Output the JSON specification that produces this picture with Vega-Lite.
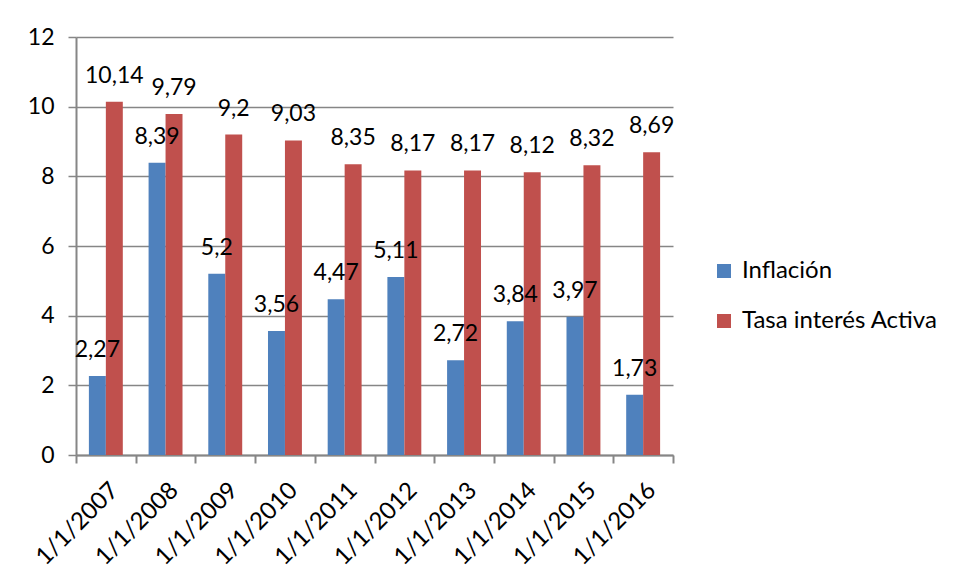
{
  "$schema": "https://vega.github.io/schema/vega-lite/v6.json",
  "width": 597,
  "height": 418,
  "autosize": {"type": "none"},
  "padding": {"left": 76, "top": 37, "right": 284, "bottom": 126},
  "background": "white",
  "config": {
    "font": "Lato",
    "view": {"stroke": null},
    "locale": {"number": {"decimal": ",", "thousands": ".", "grouping": [3], "currency": ["", ""]}}
  },
  "data": {
    "values": [
      {"fecha": "1/1/2007", "serie": "Inflación", "valor": 2.27},
      {"fecha": "1/1/2008", "serie": "Inflación", "valor": 8.39},
      {"fecha": "1/1/2009", "serie": "Inflación", "valor": 5.2},
      {"fecha": "1/1/2010", "serie": "Inflación", "valor": 3.56},
      {"fecha": "1/1/2011", "serie": "Inflación", "valor": 4.47},
      {"fecha": "1/1/2012", "serie": "Inflación", "valor": 5.11},
      {"fecha": "1/1/2013", "serie": "Inflación", "valor": 2.72},
      {"fecha": "1/1/2014", "serie": "Inflación", "valor": 3.84},
      {"fecha": "1/1/2015", "serie": "Inflación", "valor": 3.97},
      {"fecha": "1/1/2016", "serie": "Inflación", "valor": 1.73},
      {"fecha": "1/1/2007", "serie": "Tasa interés Activa", "valor": 10.14},
      {"fecha": "1/1/2008", "serie": "Tasa interés Activa", "valor": 9.79},
      {"fecha": "1/1/2009", "serie": "Tasa interés Activa", "valor": 9.2},
      {"fecha": "1/1/2010", "serie": "Tasa interés Activa", "valor": 9.03},
      {"fecha": "1/1/2011", "serie": "Tasa interés Activa", "valor": 8.35},
      {"fecha": "1/1/2012", "serie": "Tasa interés Activa", "valor": 8.17},
      {"fecha": "1/1/2013", "serie": "Tasa interés Activa", "valor": 8.17},
      {"fecha": "1/1/2014", "serie": "Tasa interés Activa", "valor": 8.12},
      {"fecha": "1/1/2015", "serie": "Tasa interés Activa", "valor": 8.32},
      {"fecha": "1/1/2016", "serie": "Tasa interés Activa", "valor": 8.69}
    ]
  },
  "encoding": {
    "x": {
      "field": "fecha", "type": "nominal", "sort": null,
      "scale": {"paddingInner": 0, "paddingOuter": 0},
      "axis": {
        "title": null, "labelAngle": -45, "labelAlign": "right", "labelBaseline": "top",
        "labelFontSize": 24, "labelColor": "black", "labelPadding": 15,
        "tickBand": "extent", "tickSize": 8, "tickColor": "#868686", "domainColor": "#868686",
        "tickWidth": 2, "domainWidth": 2, "grid": false
      }
    },
    "xOffset": {"field": "serie", "type": "nominal", "scale": {"paddingInner": 0, "paddingOuter": 0.76}},
    "y": {
      "field": "valor", "type": "quantitative",
      "scale": {"domain": [0, 12], "nice": false},
      "axis": {
        "title": null, "values": [0, 2, 4, 6, 8, 10, 12], "labelFontSize": 23, "labelColor": "black",
        "labelPadding": 14, "tickSize": 8, "tickColor": "#868686", "domainColor": "#868686",
        "gridColor": "#868686", "tickWidth": 1.5, "domainWidth": 2, "gridWidth": 1.5
      }
    }
  },
  "layer": [
    {
      "mark": {"type": "bar"},
      "encoding": {
        "color": {
          "field": "serie", "type": "nominal",
          "scale": {"domain": ["Inflación", "Tasa interés Activa"], "range": ["#4F81BD", "#C0504D"]},
          "legend": {
            "title": null, "orient": "none", "legendX": 636, "legendY": 222,
            "symbolType": "square", "symbolSize": 196, "symbolStrokeWidth": 0,
            "labelFontSize": 24, "labelColor": "black", "rowPadding": 26, "labelOffset": 6, "labelLimit": 400
          }
        }
      }
    },
    {
      "mark": {"type": "text", "fontSize": 23, "color": "black", "baseline": "alphabetic", "dy": -19},
      "encoding": {"text": {"field": "valor", "type": "quantitative", "format": "~r"}}
    }
  ]
}
